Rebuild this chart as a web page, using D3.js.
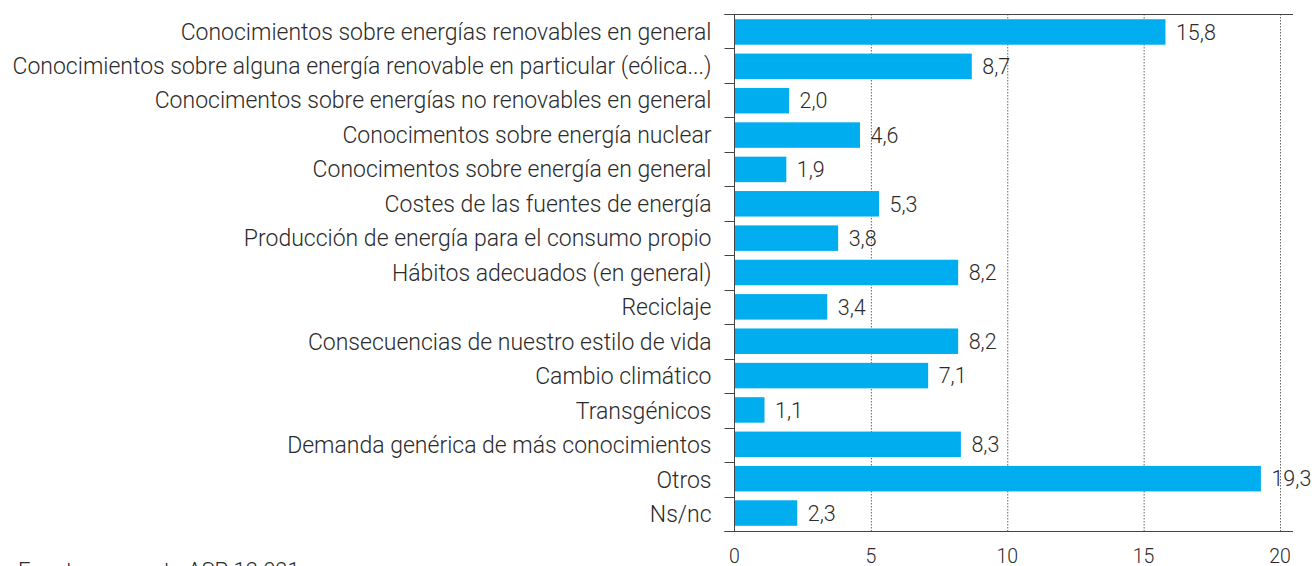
<!DOCTYPE html>
<html>
<head>
<meta charset="utf-8">
<script src="https://cdn.jsdelivr.net/npm/d3@7"></script>
<style>
body { margin: 0; background: #fff; }
svg text { font-family: Roboto, "Noto Sans", sans-serif; font-weight: 300; fill: #2b2b2b; }
</style>
</head>
<body>
<svg id="chart" width="1314" height="566"></svg>
<script>
var categories = [
  "Conocimientos sobre energías renovables en general",
  "Conocimientos sobre alguna energía renovable en particular (eólica...)",
  "Conocimentos sobre energías no renovables en general",
  "Conocimentos sobre energía nuclear",
  "Conocimentos sobre energía en general",
  "Costes de las fuentes de energía",
  "Producción de energía para el consumo propio",
  "Hábitos adecuados (en general)",
  "Reciclaje",
  "Consecuencias de nuestro estilo de vida",
  "Cambio climático",
  "Transgénicos",
  "Demanda genérica de más conocimientos",
  "Otros",
  "Ns/nc"
];
var values = [15.8, 8.7, 2.0, 4.6, 1.9, 5.3, 3.8, 8.2, 3.4, 8.2, 7.1, 1.1, 8.3, 19.3, 2.3];
var xTicks = [0, 5, 10, 15, 20];
var source = "Fuente: encuesta ASP 12.021";

var width = 1314, height = 566;
var margin = {top: 14, right: 34, bottom: 35, left: 734.5};
var plotBottom = height - margin.bottom;

var svg = d3.select("#chart");

var x = d3.scaleLinear()
  .domain([0, 20])
  .range([margin.left, margin.left + 545.5]);

// bars
var y = d3.scaleBand()
  .domain(categories)
  .range([margin.top, plotBottom])
  .paddingInner(0.258)
  .paddingOuter(0.152);

// rows (labels and tick marks)
var yRow = d3.scaleBand()
  .domain(categories)
  .range([margin.top, plotBottom]);

var fmt = v => v.toFixed(1).replace(".", ",");
var axisColor = "#444";

// dotted gridlines
svg.append("g")
  .selectAll("line")
  .data(xTicks.slice(1))
  .join("line")
  .attr("x1", d => x(d) + 0.5).attr("x2", d => x(d) + 0.5)
  .attr("y1", margin.top).attr("y2", plotBottom)
  .attr("stroke", "#666")
  .attr("stroke-width", 1)
  .attr("stroke-dasharray", "1.5,1.5");

// bars
svg.append("g")
  .selectAll("rect")
  .data(values)
  .join("rect")
  .attr("x", x(0))
  .attr("y", (d, i) => y(categories[i]))
  .attr("width", d => x(d) - x(0))
  .attr("height", y.bandwidth())
  .attr("fill", "#00adef");

// value labels
svg.append("g")
  .selectAll("text")
  .data(values)
  .join("text")
  .attr("x", d => x(d) + 10.5)
  .attr("y", (d, i) => y(categories[i]) + y.bandwidth() / 2)
  .attr("dy", "0.36em")
  .attr("font-size", 21.5)
  .text(d => fmt(d));

// category labels
svg.append("g")
  .selectAll("text")
  .data(categories)
  .join("text")
  .attr("x", margin.left - 23)
  .attr("y", d => yRow(d) + yRow.bandwidth() / 2)
  .attr("dy", "0.36em")
  .attr("text-anchor", "end")
  .attr("font-size", 23)
  .text(d => d);

// y axis line + tick marks at row boundaries
var boundaries = categories.map(c => yRow(c)).concat([plotBottom]);
svg.append("line")
  .attr("x1", margin.left).attr("x2", margin.left)
  .attr("y1", margin.top).attr("y2", plotBottom)
  .attr("stroke", axisColor);
svg.append("g")
  .selectAll("line")
  .data(boundaries)
  .join("line")
  .attr("x1", margin.left - 10).attr("x2", margin.left)
  .attr("y1", d => Math.round(d) + 0.5).attr("y2", d => Math.round(d) + 0.5)
  .attr("stroke", axisColor);

// top and bottom frame lines
svg.append("g")
  .selectAll("line")
  .data([margin.top, plotBottom])
  .join("line")
  .attr("x1", margin.left - 10).attr("x2", x(20) + 13)
  .attr("y1", d => d + 0.5).attr("y2", d => d + 0.5)
  .attr("stroke", axisColor);

svg.append("g")
  .selectAll("text")
  .data(xTicks)
  .join("text")
  .attr("x", d => x(d))
  .attr("y", plotBottom + 32)
  .attr("text-anchor", "middle")
  .attr("font-size", 19.5)
  .text(d => d);

svg.append("text")
  .attr("x", 18)
  .attr("y", 578)
  .attr("font-size", 22)
  .text(source);
</script>
</body>
</html>
